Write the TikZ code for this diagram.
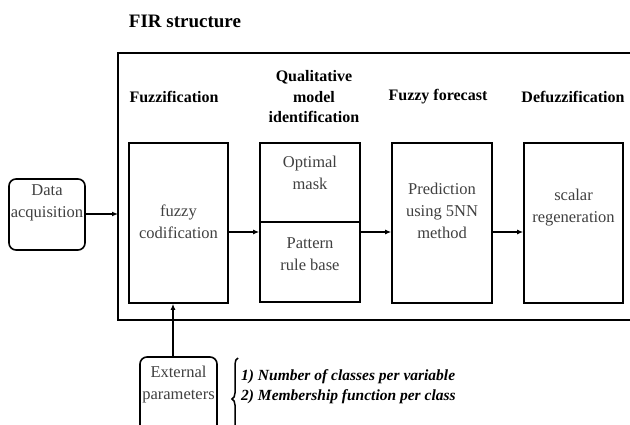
\documentclass[tikz,border=0pt]{standalone}
\usepackage{fontspec}
\setmainfont{Liberation Serif}
\usetikzlibrary{arrows.meta,decorations.pathreplacing}
\definecolor{txtgray}{gray}{0.25}
\tikzset{
  box/.style={draw=black,line width=1.6pt,minimum width=#1,inner sep=0pt},
  rbox/.style={draw=black,line width=1.6pt,rounded corners=7pt,inner sep=0pt},
  boxtext/.style={text=txtgray,font=\fontsize{16.5}{22}\selectfont,align=center,inner sep=0pt},
  head/.style={font=\fontsize{16}{20}\selectfont\bfseries,align=center,inner sep=0pt},
  arr/.style={line width=1.6pt,-{Latex[length=6pt,width=5pt]}},
}
\begin{document}
\begin{tikzpicture}[x=1pt,y=-1pt]
\useasboundingbox (0,0) rectangle (630,425);
\clip (0,0) rectangle (630,425);
% outer frame (open on the right)
\draw[line width=2pt] (632,53) -- (118,53) coordinate (ftl) -- (118,320) -- (632,320);
\coordinate (fin) at (118,214);
% title
\node[head,font=\fontsize{19}{22}\selectfont\bfseries] (title) at (185,21) {FIR structure};
% headings
\node[head] (h1) at (174,97) {Fuzzification};
\node[head,font=\fontsize{16}{20.5}\selectfont\bfseries] (h2) at (314,97) {Qualitative\\model\\identification};
\node[head] (h3) at (438,97) {Fuzzy forecast};
\node[head] (h4) at (573,97) {Defuzzification};
% boxes
\node[box=99pt,minimum height=160pt] (fz) at (178.5,223) {};
\node[box=100pt,minimum height=79pt] (qt) at (310,182.5) {};
\node[box=100pt,minimum height=80pt] (qb) at (310,262) {};
\node[box=100pt,minimum height=160pt] (ff) at (442,223) {};
\node[box=99pt,minimum height=160pt] (df) at (573.5,223) {};
\node[rbox,minimum width=76pt,minimum height=71pt] (da) at (47,214.5) {};
\node[rbox,minimum width=77pt,minimum height=95pt] (ep) at (178.5,404.5) {};
% box texts
\node[boxtext] (tfz) at (178.5,222) {fuzzy\\codification};
\node[boxtext] (tqt) at (310,172.5) {Optimal\\mask};
\node[boxtext] (tqb) at (310,254) {Pattern\\rule base};
\node[boxtext] (tff) at (442,210.5) {Prediction\\using 5NN\\method};
\node[boxtext] (tdf) at (573.5,207.5) {scalar\\regeneration};
\node[boxtext] (tda) at (47,203) {Data\\acquisition};
\node[boxtext] (tep) at (178.5,385) {External\\parameters};
% arrows
\draw[arr] (da.east |- fin) -- (fin);
\draw[arr] (fz.east |- 0,232) -- (qb.west |- 0,232);
\draw[arr] (qb.east |- 0,232) -- (ff.west |- 0,232);
\draw[arr] (ff.east |- 0,232) -- (df.west |- 0,232);
\draw[arr] (ep.north -| 173,0) -- (fz.south -| 173,0);
% brace and list
\draw[line width=1.5pt,decorate,decoration={brace,amplitude=6pt}] (238,440) -- (238,358) coordinate (btop);
\node[inner sep=0pt,anchor=west,font=\fontsize{15.5}{20}\selectfont\bfseries\itshape,align=left] (lst) at (241,387) {1) Number of classes per variable\\2) Membership function per class};
\end{tikzpicture}
\end{document}
